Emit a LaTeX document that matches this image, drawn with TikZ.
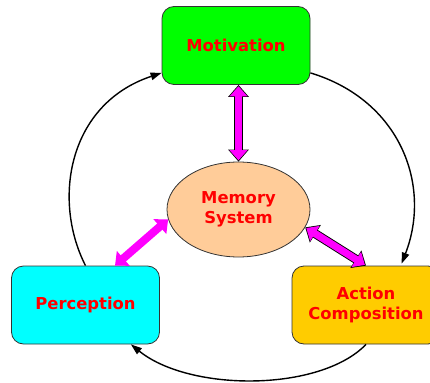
\documentclass[tikz,border=0pt]{standalone}
\usepackage{fontspec}
\setmainfont{DejaVu Sans}
\usetikzlibrary{arrows.meta,calc,shapes.geometric}

\definecolor{boxgreen}{HTML}{00FF00}
\definecolor{boxcyan}{HTML}{00FFFF}
\definecolor{boxgold}{HTML}{FFCC00}
\definecolor{memfill}{HTML}{FFCC99}
\definecolor{labelred}{HTML}{FF0000}
\definecolor{linkmag}{HTML}{FF00FF}

\tikzset{
  stagebox/.style={draw=black!80, line width=0.8pt, rounded corners=12pt,
    minimum width=148pt, minimum height=78pt, inner sep=0pt,
    align=center, text=labelred,
    font=\fontsize{16.4}{20}\selectfont\bfseries},
  memnode/.style={ellipse, draw=black!80, line width=0.8pt, fill=memfill,
    minimum width=143pt, minimum height=95pt, inner sep=0pt,
    align=center, text=labelred,
    font=\fontsize{16.4}{20}\selectfont\bfseries},
  cyclearrow/.style={line width=1.4pt, -{Triangle[length=11pt,width=7.5pt]}},
  % outlined block arrow: black under-layer, magenta on top
  linkouter/.style={line width=9pt, black,
    {Triangle[length=12pt,width=20pt]}-{Triangle[length=12pt,width=20pt]}},
  linkinner/.style={line width=7.2pt, linkmag, shorten <=1.3pt, shorten >=1.3pt,
    {Triangle[length=10.2pt,width=17.4pt]}-{Triangle[length=10.2pt,width=17.4pt]}},
  linkplain/.style={line width=8pt, linkmag,
    {Triangle[length=11pt,width=19pt]}-{Triangle[length=11pt,width=19pt]}}
}

\begin{document}
\begin{tikzpicture}[x=1pt,y=-1pt]
  \useasboundingbox (0,0) rectangle (430,382);

  \node[stagebox, fill=boxgreen] (mot) at (236,45.5) {Motivation};
  \node[stagebox, fill=boxcyan]  (per) at (85.5,305) {Perception};
  \node[stagebox, fill=boxgold]  (act) at (366,305) {Action\\Composition};
  \node[memnode] (mem) at (238.5,209.5) {Memory\\System};

  % cycle connectors
  \coordinate (motL) at ($(mot.south west)+(0,-12)$);
  \coordinate (motR) at ($(mot.south east)+(0,-12)$);
  \coordinate (actT) at ($(act.north west)+(110,-2)$);
  \coordinate (perB) at ($(per.south east)+(-29,0)$);

  \draw[cyclearrow] (per.north) .. controls (52,200) and (68,104) .. (motL);
  \draw[cyclearrow] (motR) .. controls (400,100) and (432,185) .. (actT);
  \draw[cyclearrow] (act.south) .. controls (320,392) and (190,392) .. (perB);

  % links to the memory system
  \coordinate (motB) at (mem.north |- mot.south);
  \draw[linkouter] (motB) -- (mem.north);
  \draw[linkinner] (motB) -- (mem.north);

  \draw[linkouter] (mem.-15) -- (act.north);
  \draw[linkinner] (mem.-15) -- (act.north);

  \coordinate (perT) at ($(per.north)+(29.5,0)$);
  \draw[linkplain] (mem.188) -- (perT);
\end{tikzpicture}
\end{document}
